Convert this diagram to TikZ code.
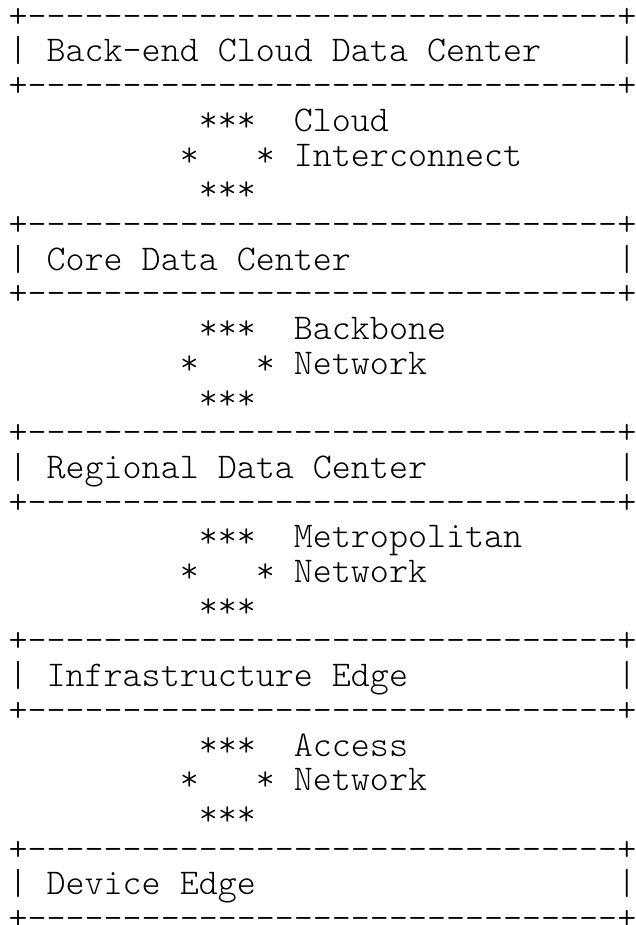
\documentclass[tikz,border=0pt]{standalone}
\usepackage{fontspec}
\setmonofont{Latin Modern Mono Light}
% column pitch 19.02pt, row pitch 34.7pt
\newcommand\asciirow[4]{\node[asciitext] (#1) at ({8.6+(#3)*19.02},{-(27.3+(#2)*34.7)}) {#4};}
\newcommand\edgechar[3]{\node[edgetext] (#1) at ({8.6+32.5*19.02},{-(27.3+(#2)*34.7)}) {\makebox[0pt]{#3}};}
\newcommand\dashrule{+-------------------------------}
\begin{document}
\begin{tikzpicture}[x=1pt,y=1pt,
  asciitext/.style={anchor=base west, inner sep=0pt, outer sep=0pt,
    font=\ttfamily\fontsize{36.23}{40}\selectfont},
  edgetext/.style={asciitext, anchor=base}]
\useasboundingbox (0,0) rectangle (635,-925);
% boxes
\foreach \nm/\k/\lab in {b1/0/Back-end Cloud Data Center,
                         b2/6/Core Data Center,
                         b3/12/Regional Data Center,
                         b4/18/Infrastructure Edge,
                         b5/24/Device Edge}{
  \asciirow{\nm top}{\k}{0}{\dashrule}
  \edgechar{\nm topcorner}{\k}{+}
  \asciirow{\nm left}{\k+1}{0}{|}
  \asciirow{\nm}{\k+1}{2}{\lab}
  \edgechar{\nm right}{\k+1}{|}
  \asciirow{\nm bottom}{\k+2}{0}{\dashrule}
  \edgechar{\nm bottomcorner}{\k+2}{+}
}
% network links between boxes
\foreach \nm/\k/\la/\lb in {n1/3/Cloud/Interconnect,
                            n2/9/Backbone/Network,
                            n3/15/Metropolitan/Network,
                            n4/21/Access/Network}{
  \asciirow{\nm top}{\k}{10}{***}
  \asciirow{\nm a}{\k}{15}{\la}
  \asciirow{\nm left}{\k+1}{9}{*}
  \asciirow{\nm right}{\k+1}{13}{*}
  \asciirow{\nm b}{\k+1}{15}{\lb}
  \asciirow{\nm bottom}{\k+2}{10}{***}
}
\end{tikzpicture}
\end{document}
